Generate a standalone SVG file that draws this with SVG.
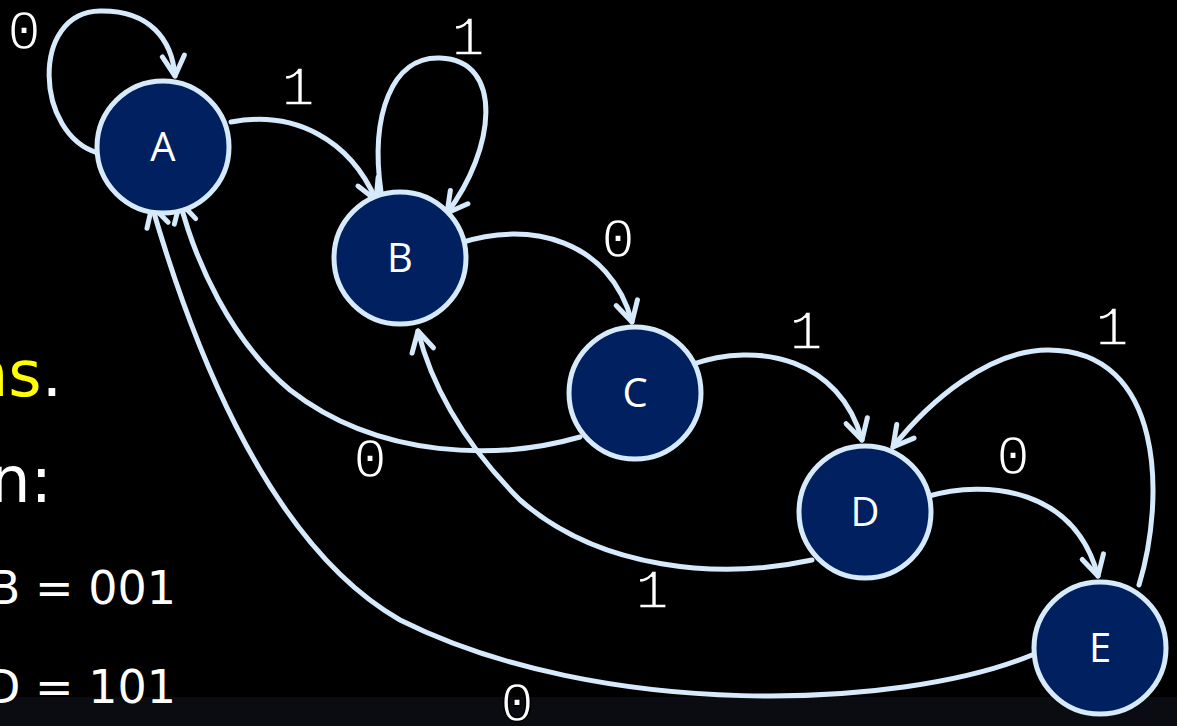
<svg xmlns="http://www.w3.org/2000/svg" width="1177" height="726" viewBox="0 0 1177 726">
<style>
.node{fill:#002060;stroke:#d6eafc;stroke-width:5}
.nl{fill:#ffffff;font-family:"Open Sans",sans-serif;font-size:40px;text-anchor:middle}
.e{fill:none;stroke:#d6eafc;stroke-width:5;stroke-linecap:round}
.el{fill:#ffffff;stroke:#000000;stroke-width:1.6px;font-family:"Liberation Mono",monospace;font-size:56px;text-anchor:middle}
.big{fill:#ffffff;font-family:"DejaVu Sans",sans-serif;font-size:64px;text-anchor:end}
.side{fill:#ffffff;font-family:"DejaVu Sans",sans-serif;font-size:46px;text-anchor:end}
</style>
<defs>
<marker id="arr" markerUnits="userSpaceOnUse" markerWidth="40" markerHeight="40" viewBox="-30 -20 40 40" refX="0" refY="0" orient="auto">
<path d="M -20,-11 L 0,0 L -20,11" fill="none" stroke="#d6eafc" stroke-width="5" stroke-linecap="round" stroke-linejoin="round"/>
</marker>
</defs>
<rect x="0" y="0" width="1177" height="726" fill="#000000"/>
<rect x="0" y="697" width="1177" height="29" fill="#0a0c11"/>
<g id="sidetext">
<text class="big" x="62" y="396"><tspan fill="#ffff00">ns</tspan>.</text>
<text class="big" x="52" y="502">n:</text>
<text class="side" x="176" y="604">B = 001</text>
<text class="side" x="176" y="703">D = 101</text>
</g>
<g id="edges">
<path class="e" marker-end="url(#arr)" d="M 98,153 C 35,135 30,12 100,11 C 150,10 172,40 175,76"/>
<path class="e" marker-end="url(#arr)" d="M 231,122 C 295,110 350,140 376,200"/>
<path class="e" marker-end="url(#arr)" d="M 381,192 C 370,115 392,56 440,58 C 505,60 495,150 447,213"/>
<path class="e" marker-end="url(#arr)" d="M 460,243 C 530,220 610,240 632,322"/>
<path class="e" marker-end="url(#arr)" d="M 690,365 C 760,340 840,360 862,440"/>
<path class="e" marker-end="url(#arr)" d="M 925,497 C 990,478 1075,490 1098,576"/>
<path class="e" marker-end="url(#arr)" d="M 1139,585 C 1165,500 1165,350 1048,350 C 990,350 930,400 893,447"/>
<path class="e" marker-end="url(#arr)" d="M 580,437 C 500,460 380,460 290,390 C 230,340 195,260 180,202"/>
<path class="e" marker-end="url(#arr)" d="M 812,560 C 720,580 600,570 520,500 C 460,440 430,380 418,331"/>
<path class="e" marker-end="url(#arr)" d="M 1032,655 C 900,710 600,720 400,620 C 260,540 185,320 152,206"/>
</g>
<g id="edgelabels">
<text class="el" x="24" y="49">0</text>
<text class="el" x="298" y="105">1</text>
<text class="el" x="468" y="55">1</text>
<text class="el" x="618" y="257">0</text>
<text class="el" x="806" y="349">1</text>
<text class="el" x="1112" y="345">1</text>
<text class="el" x="1013" y="474">0</text>
<text class="el" x="370" y="477">0</text>
<text class="el" x="652" y="608">1</text>
<text class="el" x="517" y="721">0</text>
</g>
<g id="nodeA"><circle class="node" cx="163" cy="147" r="66"/><text class="nl" x="163" y="161">A</text></g>
<g id="nodeB"><circle class="node" cx="400" cy="258" r="66"/><text class="nl" x="400" y="272">B</text></g>
<g id="nodeC"><circle class="node" cx="635" cy="393" r="66"/><text class="nl" x="635" y="407">C</text></g>
<g id="nodeD"><circle class="node" cx="865" cy="512" r="66"/><text class="nl" x="865" y="526">D</text></g>
<g id="nodeE"><circle class="node" cx="1100" cy="648" r="66"/><text class="nl" x="1100" y="662">E</text></g>
</svg>
